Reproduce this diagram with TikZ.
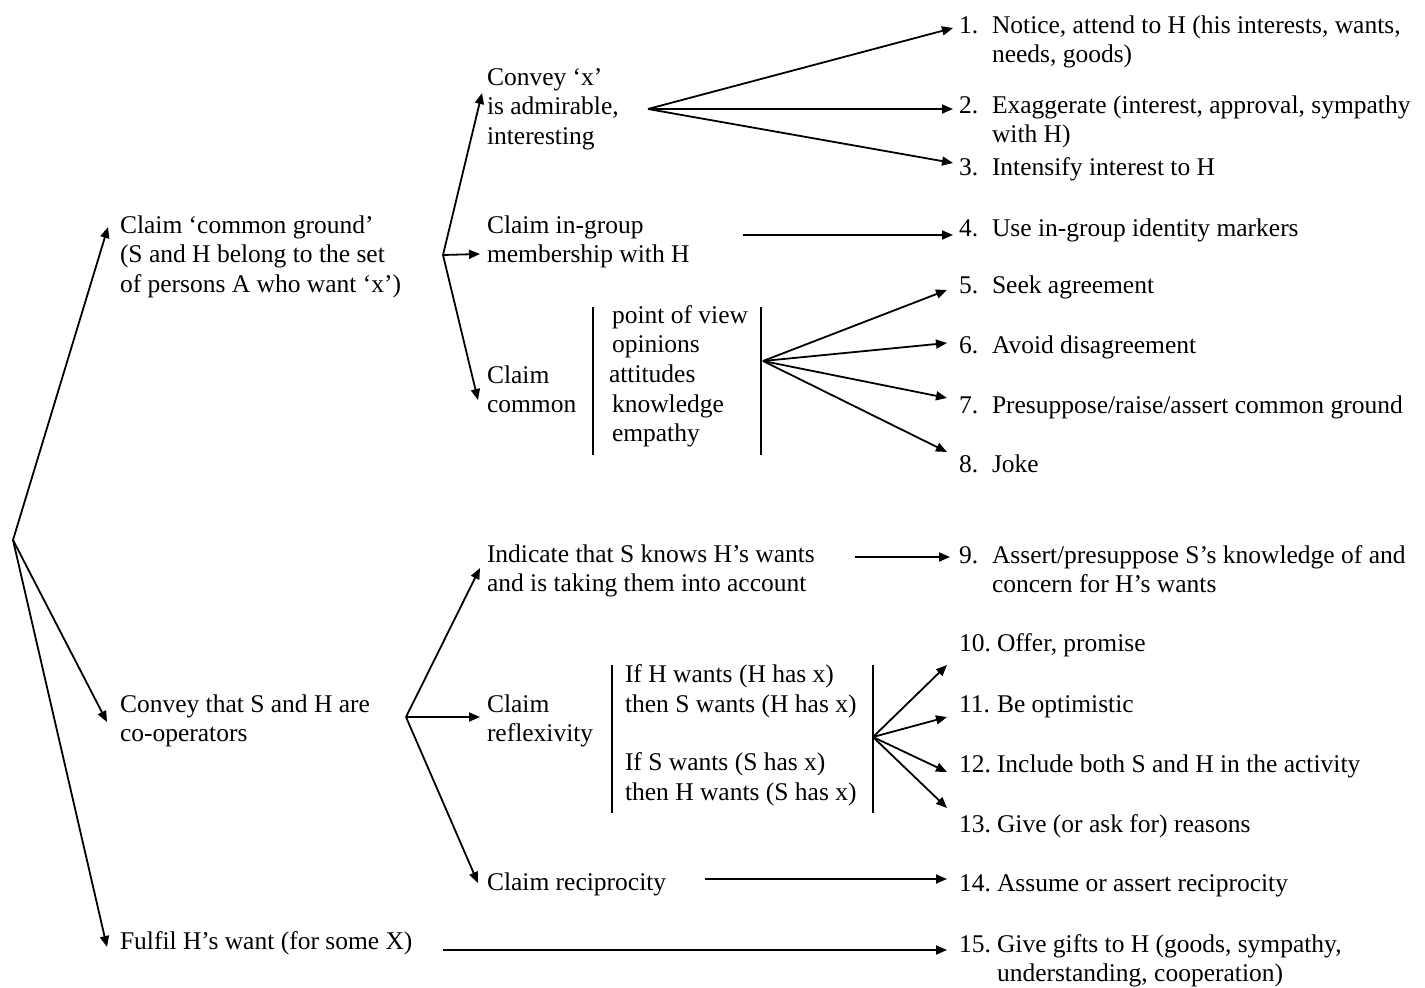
\documentclass[tikz,border=0pt]{standalone}
\usepackage{fontspec}
\setmainfont{Liberation Serif}
\usetikzlibrary{arrows.meta}
\begin{document}
\begin{tikzpicture}[x=1pt,y=-1pt,
  txt/.style={anchor=base west,inner sep=0pt,outer sep=0pt,align=left,font=\fontsize{25.5}{29.7}\selectfont},
  arr/.style={line width=1.8pt,-{Triangle[length=11pt,width=9pt]}},
  bar/.style={line width=2.4pt}]
\useasboundingbox[fill=white] (0,0) rectangle (1425,988);
\newcommand{\numA}[1]{\makebox[33pt][l]{#1}}
\newcommand{\numB}[1]{\makebox[38pt][l]{#1}}
% multi-line nodes are placed by the baseline of their last line
% level 1
\node[txt] (cg) at (120,292.4) {Claim ‘common ground’\\(S and H belong to the set\\of persons A who want ‘x’)};
\node[txt] (co) at (120,741.7) {Convey that S and H are\\co-operators};
\node[txt] (fu) at (120,949) {Fulfil H’s want (for some X)};
% level 2
\node[txt] (cx) at (487,144.4) {Convey ‘x’\\is admirable,\\interesting};
\node[txt] (ig) at (487,262.7) {Claim in-group\\membership with H};
\node[txt] (cc) at (487,412.7) {Claim\\common};
\node[txt] (ccl) at (612,441.8) {point of view\\opinions\\\hspace*{-3pt}attitudes\\knowledge\\empathy};
\node[txt] (ind) at (487,591.7) {Indicate that S knows H’s wants\\and is taking them into account};
\node[txt] (rf) at (487,741.7) {Claim\\reflexivity};
\node[txt] (rfl) at (625,800) {If H wants (H has x)\\then S wants (H has x)\\[28pt]If S wants (S has x)\\then H wants (S has x)};
\node[txt] (rc) at (487,890) {Claim reciprocity};
% items
\node[txt] (i1) at (959,62.7) {\numA{1.}Notice, attend to H (his interests, wants,\\\hspace*{33pt}needs, goods)};
\node[txt] (i2) at (959,142.7) {\numA{2.}Exaggerate (interest, approval, sympathy\\\hspace*{33pt}with H)};
\node[txt] (i3) at (959,175) {\numA{3.}Intensify interest to H};
\node[txt] (i4) at (959,236) {\numA{4.}Use in-group identity markers};
\node[txt] (i5) at (959,293) {\numA{5.}Seek agreement};
\node[txt] (i6) at (959,353) {\numA{6.}Avoid disagreement};
\node[txt] (i7) at (959,413) {\numA{7.}Presuppose/raise/assert common ground};
\node[txt] (i8) at (959,472) {\numA{8.}Joke};
\node[txt] (i9) at (959,592.7) {\numA{9.}Assert/presuppose S’s knowledge of and\\\hspace*{33pt}concern for H’s wants};
\node[txt] (i10) at (959,651) {\numB{10.}Offer, promise};
\node[txt] (i11) at (959,712) {\numB{11.}Be optimistic};
\node[txt] (i12) at (959,772) {\numB{12.}Include both S and H in the activity};
\node[txt] (i13) at (959,832) {\numB{13.}Give (or ask for) reasons};
\node[txt] (i14) at (959,891) {\numB{14.}Assume or assert reciprocity};
\node[txt] (i15) at (959,981.7) {\numB{15.}Give gifts to H (goods, sympathy,\\\hspace*{38pt}understanding, cooperation)};
% branch points and connector ends
\coordinate (R) at (13,540);
\coordinate (tcg) at (108,227); \coordinate (tco) at (107,722); \coordinate (tfu) at (107,947);
\coordinate (B1) at (443,255);
\coordinate (tcx) at (482,93); \coordinate (tig) at (480,254); \coordinate (tcc) at (478,400);
\coordinate (B2) at (648,109);
\coordinate (t1) at (953,28); \coordinate (t2) at (953,109); \coordinate (t3) at (953,163);
\coordinate (s4) at (743,235); \coordinate (t4) at (953,235);
\coordinate (B5) at (763,361);
\coordinate (t5) at (947,290); \coordinate (t6) at (947,343); \coordinate (t7) at (947,398); \coordinate (t8) at (947,452);
\coordinate (B3) at (406,717);
\coordinate (tind) at (480,568); \coordinate (trf) at (480,717); \coordinate (trc) at (478,883);
\coordinate (s9) at (855,557); \coordinate (t9) at (950,557);
\coordinate (B4) at (873,737);
\coordinate (t10) at (947,665); \coordinate (t11) at (947,717); \coordinate (t12) at (947,772); \coordinate (t13) at (947,808);
\coordinate (s14) at (705,879); \coordinate (t14) at (947,879);
\coordinate (s15) at (443,950); \coordinate (t15) at (947,950);
% bars
\coordinate (b1a) at (593,307); \coordinate (b1b) at (593,455);
\coordinate (b2a) at (761,307); \coordinate (b2b) at (761,455);
\coordinate (b3a) at (612,665); \coordinate (b3b) at (612,813);
\coordinate (b4a) at (873,665); \coordinate (b4b) at (873,813);
\draw[bar] (b1a) -- (b1b);
\draw[bar] (b2a) -- (b2b);
\draw[bar] (b3a) -- (b3b);
\draw[bar] (b4a) -- (b4b);
% connectors
\draw[arr] (R) -- (tcg);
\draw[arr] (R) -- (tco);
\draw[arr] (R) -- (tfu);
\draw[arr] (B1) -- (tcx);
\draw[arr] (B1) -- (tig);
\draw[arr] (B1) -- (tcc);
\draw[arr] (B2) -- (t1);
\draw[arr] (B2) -- (t2);
\draw[arr] (B2) -- (t3);
\draw[arr] (s4) -- (t4);
\draw[arr] (B5) -- (t5);
\draw[arr] (B5) -- (t6);
\draw[arr] (B5) -- (t7);
\draw[arr] (B5) -- (t8);
\draw[arr] (B3) -- (tind);
\draw[arr] (B3) -- (trf);
\draw[arr] (B3) -- (trc);
\draw[arr] (s9) -- (t9);
\draw[arr] (B4) -- (t10);
\draw[arr] (B4) -- (t11);
\draw[arr] (B4) -- (t12);
\draw[arr] (B4) -- (t13);
\draw[arr] (s14) -- (t14);
\draw[arr] (s15) -- (t15);
\end{tikzpicture}
\end{document}
